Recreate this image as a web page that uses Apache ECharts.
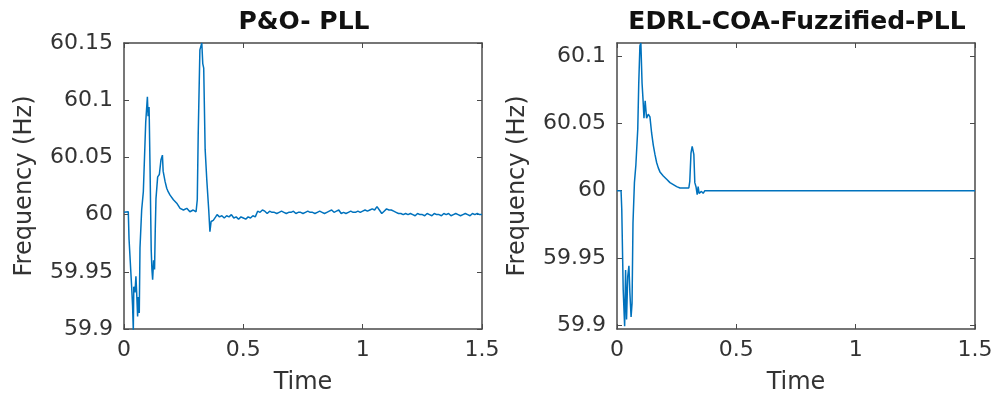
<!DOCTYPE html>
<html>
<head>
<meta charset="utf-8">
<script src="https://cdn.jsdelivr.net/npm/echarts@6/dist/echarts.min.js"></script>
<style>
  html, body { margin: 0; padding: 0; background: #fff; }
  #main { width: 998px; height: 403px; }
</style>
</head>
<body>
<div id="main"></div>
<script>
// titles of the two panels
var titles = ['P&O- PLL', 'EDRL-COA-Fuzzified-PLL'];

// x axis ticks (Time)
var timeTicks = [0, 0.5, 1, 1.5];
// y axis ticks (Frequency)
var leftFreqTicks = [59.9, 59.95, 60, 60.05, 60.1, 60.15];
var rightFreqTicks = [59.9, 59.95, 60, 60.05, 60.1];

// P&O- PLL curve
var leftTime = [
  0, 0.004, 0.018, 0.021, 0.029, 0.032, 0.036, 0.039, 0.041, 0.046,
  0.050, 0.053, 0.057, 0.060, 0.064, 0.067, 0.074, 0.081, 0.085, 0.091,
  0.098, 0.101, 0.105, 0.106, 0.109, 0.114, 0.117, 0.120, 0.124, 0.128,
  0.131, 0.134, 0.141, 0.148, 0.155, 0.161, 0.164, 0.172, 0.179, 0.185,
  0.193, 0.207, 0.221, 0.235, 0.249, 0.263, 0.276, 0.290, 0.302, 0.307,
  0.311, 0.318, 0.326, 0.330, 0.334, 0.340, 0.347, 0.355, 0.360, 0.365,
  0.374, 0.384,
  0.39, 0.40, 0.41, 0.42, 0.43, 0.44, 0.45, 0.46, 0.47, 0.48, 0.49,
  0.50, 0.51, 0.52, 0.53, 0.54, 0.55, 0.56, 0.57, 0.58, 0.59,
  0.60, 0.61, 0.62, 0.63, 0.64, 0.65, 0.66, 0.67, 0.68, 0.69,
  0.70, 0.71, 0.72, 0.73, 0.74, 0.75, 0.76, 0.77, 0.78, 0.79,
  0.80, 0.81, 0.82, 0.83, 0.84, 0.85, 0.86, 0.87, 0.88, 0.89,
  0.90, 0.91, 0.92, 0.93, 0.94, 0.95, 0.96, 0.97, 0.98, 0.99,
  1.00, 1.01, 1.02, 1.03, 1.04, 1.05, 1.06, 1.07, 1.08, 1.09,
  1.10, 1.11, 1.12, 1.13, 1.14, 1.15, 1.16, 1.17, 1.18, 1.19,
  1.20, 1.21, 1.22, 1.23, 1.24, 1.25, 1.26, 1.27, 1.28, 1.29,
  1.30, 1.31, 1.32, 1.33, 1.34, 1.35, 1.36, 1.37, 1.38, 1.39,
  1.40, 1.41, 1.42, 1.43, 1.44, 1.45, 1.46, 1.47, 1.48, 1.49, 1.50
];
var leftFreq = [
  60.002, 60.0025, 60.0025, 59.979, 59.979, 59.937, 59.920, 59.899, 59.937, 59.932,
  59.946, 59.932, 59.911, 59.928, 59.914, 59.971, 60.004, 60.020, 60.021, 60.081,
  60.103, 60.086, 60.094, 60.083, 60.043, 59.969, 59.952, 59.943, 59.960, 59.952,
  59.987, 60.014, 60.033, 60.035, 60.048, 60.052, 60.038, 60.029, 60.023, 60.020,
  60.017, 60.013, 60.010, 60.0055, 60.004, 60.0055, 60.0025, 60.004, 60.0025, 60.013,
  60.071, 60.144, 60.150, 60.132, 60.128, 60.057, 60.030, 60.004, 59.985, 59.994,
  59.995, 59.998,
  60.000, 59.998, 59.999, 59.997, 59.999, 59.998, 60.000, 59.997, 59.998, 59.996, 59.998,
  59.997, 59.996, 59.998, 59.997, 59.999, 59.998, 60.003, 60.002, 60.004, 60.003,
  60.001, 60.003, 60.002, 60.002, 60.001, 60.002, 60.003, 60.002, 60.001, 60.002,
  60.002, 60.003, 60.001, 60.002, 60.002, 60.001, 60.002, 60.003, 60.002, 60.002,
  60.001, 60.002, 60.003, 60.002, 60.001, 60.002, 60.003, 60.004, 60.002, 60.003,
  60.004, 60.001, 60.002, 60.001, 60.002, 60.003, 60.002, 60.002, 60.003, 60.002,
  60.003, 60.004, 60.003, 60.004, 60.005, 60.004, 60.007, 60.004, 60.001, 60.003,
  60.005, 60.004, 60.004, 60.003, 60.002, 60.001, 60.001, 60.000, 60.001, 60.000,
  60.001, 60.000, 59.999, 60.001, 60.000, 60.000, 59.999, 60.001, 60.000, 59.999,
  60.001, 60.000, 60.000, 59.999, 60.001, 60.000, 60.001, 59.999, 60.000, 60.001,
  60.000, 59.999, 60.000, 60.001, 60.000, 59.999, 60.001, 60.000, 60.001, 60.000, 60.000
];

// EDRL-COA-Fuzzified-PLL curve
var rightTime = [
  0, 0.017, 0.020, 0.024, 0.026, 0.032, 0.036, 0.040, 0.045, 0.050,
  0.054, 0.059, 0.063, 0.067, 0.073, 0.079, 0.087, 0.091, 0.096, 0.100,
  0.105, 0.109, 0.113, 0.118, 0.124, 0.131, 0.138, 0.145, 0.152, 0.159,
  0.166, 0.173, 0.180, 0.194, 0.208, 0.222, 0.236, 0.250, 0.264, 0.285,
  0.301, 0.305, 0.310, 0.315, 0.320, 0.322, 0.326, 0.331, 0.336, 0.340,
  0.344, 0.354, 0.361, 0.368, 0.375, 0.6, 1.0, 1.5
];
var rightFreq = [
  60.000, 60.000, 59.986, 59.986, 59.926, 59.899, 59.941, 59.904, 59.936, 59.944,
  59.924, 59.906, 59.916, 59.976, 60.006, 60.019, 60.046, 60.079, 60.108, 60.110,
  60.080, 60.068, 60.054, 60.067, 60.054, 60.057, 60.055, 60.043, 60.034, 60.027,
  60.021, 60.017, 60.014, 60.011, 60.0085, 60.006, 60.0045, 60.003, 60.002, 60.002,
  60.002, 60.007, 60.028, 60.033, 60.033, 60.027, 60.006, 60.003, 59.997, 60.003,
  59.998, 59.9995, 59.998, 60.000, 60.000, 60.000, 60.000, 60.000
];

function zip(xs, ys) {
  return xs.map(function (x, i) { return [x, ys[i]]; });
}

var textColor = '#333';
var lineColor = '#4a4a4a';
var font = 'DejaVu Sans';

function fmt(v) { return String(+(+v).toFixed(2)); }

function bottomAxis(gridIndex) {
  return {
    type: 'value', gridIndex: gridIndex, position: 'bottom',
    min: 0, max: 1.5, interval: 0.5,
    name: 'Time', nameLocation: 'middle', nameGap: 42,
    nameTextStyle: { color: textColor, fontSize: 24, fontFamily: font },
    axisLine: { show: true, onZero: false, lineStyle: { color: lineColor, width: 1.5 } },
    axisTick: { show: true, inside: true, length: 5, lineStyle: { color: lineColor } },
    axisLabel: { color: textColor, fontSize: 22, fontFamily: font, margin: 10, formatter: fmt },
    splitLine: { show: false }
  };
}
function topAxis(gridIndex) {
  return {
    type: 'value', gridIndex: gridIndex, position: 'top',
    min: 0, max: 1.5, interval: 0.5,
    axisLine: { show: true, onZero: false, lineStyle: { color: lineColor, width: 1.5 } },
    axisTick: { show: true, inside: true, length: 5, lineStyle: { color: lineColor } },
    axisLabel: { show: false },
    splitLine: { show: false }
  };
}
function leftAxis(gridIndex, min, max, ticks) {
  return {
    type: 'value', gridIndex: gridIndex, position: 'left',
    min: min, max: max,
    name: 'Frequency (Hz)', nameLocation: 'middle', nameGap: 87,
    nameTextStyle: { color: textColor, fontSize: 24, fontFamily: font },
    axisLine: { show: true, onZero: false, lineStyle: { color: lineColor, width: 1.5 } },
    axisTick: { show: true, inside: true, length: 5, customValues: ticks, lineStyle: { color: lineColor } },
    axisLabel: { color: textColor, fontSize: 22, fontFamily: font, margin: 11, customValues: ticks, formatter: fmt },
    splitLine: { show: false }
  };
}
function rightAxis(gridIndex, min, max, ticks) {
  return {
    type: 'value', gridIndex: gridIndex, position: 'right',
    min: min, max: max,
    axisLine: { show: true, onZero: false, lineStyle: { color: lineColor, width: 1.5 } },
    axisTick: { show: true, inside: true, length: 5, customValues: ticks, lineStyle: { color: lineColor } },
    axisLabel: { show: false },
    splitLine: { show: false }
  };
}

var option = {
  animation: false,
  backgroundColor: '#fff',
  title: [
    { text: titles[0], left: 299, top: 5, textAlign: 'center',
      textStyle: { color: '#111', fontSize: 25, fontWeight: 'bold', fontFamily: font } },
    { text: titles[1], left: 792, top: 5, textAlign: 'center',
      textStyle: { color: '#111', fontSize: 25, fontWeight: 'bold', fontFamily: font } }
  ],
  grid: [
    { left: 124, top: 43, width: 358, height: 286 },
    { left: 617, top: 43, width: 358, height: 286 }
  ],
  xAxis: [bottomAxis(0), bottomAxis(1), topAxis(0), topAxis(1)],
  yAxis: [
    leftAxis(0, 59.9, 60.15, leftFreqTicks),
    leftAxis(1, 59.897, 60.110, rightFreqTicks),
    rightAxis(0, 59.9, 60.15, leftFreqTicks),
    rightAxis(1, 59.897, 60.110, rightFreqTicks)
  ],
  series: [
    { type: 'line', xAxisIndex: 0, yAxisIndex: 0, data: zip(leftTime, leftFreq),
      showSymbol: false, lineStyle: { color: '#0072BD', width: 1.5 }, clip: true },
    { type: 'line', xAxisIndex: 1, yAxisIndex: 1, data: zip(rightTime, rightFreq),
      showSymbol: false, lineStyle: { color: '#0072BD', width: 1.5 }, clip: true }
  ]
};

var myChart = echarts.init(document.getElementById('main'));
myChart.setOption(option);
</script>
</body>
</html>
